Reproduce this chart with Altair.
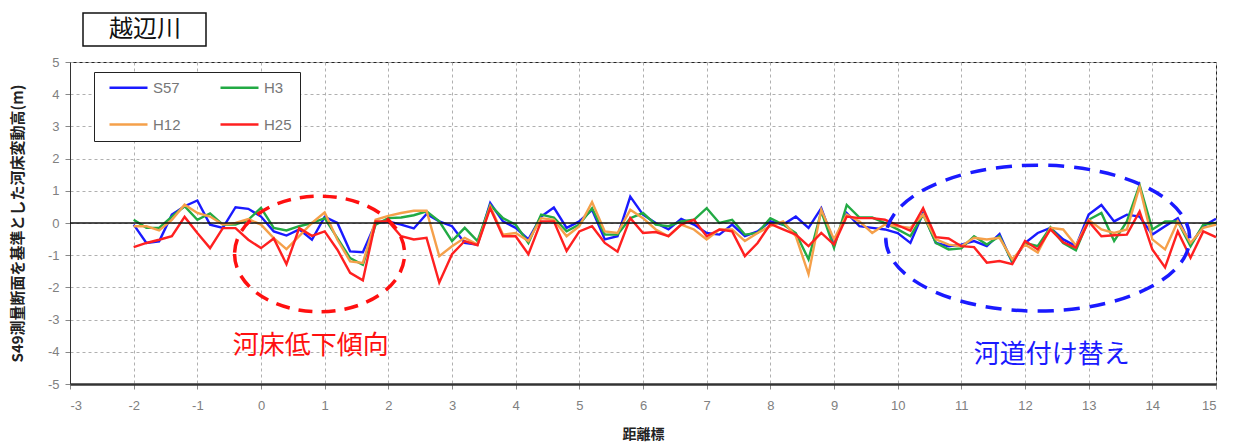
import altair as alt
import pandas as pd

km = [round(-2.0 + 0.2 * i, 1) for i in range(86)]

s57 = [-0.05, -0.62, -0.57, 0.26, 0.52, 0.70, -0.05, -0.15, 0.49, 0.44,
       0.20, -0.26, -0.39, -0.20, -0.52, 0.19, 0.00, -0.88, -0.91, 0.00,
       0.05, -0.05, -0.17, 0.28, 0.05, -0.10, -0.62, -0.67, 0.62, 0.05,
       -0.15, -0.51, 0.20, 0.48, -0.15, 0.05, 0.41, -0.51, -0.41, 0.82,
       0.26, 0.00, -0.20, 0.13, -0.05, -0.31, -0.36, -0.05, -0.41, -0.26,
       0.05, -0.05, 0.20, -0.15, 0.46, -0.62, 0.31, -0.10, -0.15, -0.20,
       -0.31, -0.62, 0.31, -0.62, -0.72, -0.67, -0.56, -0.72, -0.34, -1.23,
       -0.62, -0.31, -0.15, -0.51, -0.72, 0.26, 0.56, 0.05, 0.26, 0.20,
       -0.36, -0.10, 0.15, -0.67, -0.10, 0.13]

h3 = [0.10, -0.15, -0.15, 0.20, 0.52, 0.10, 0.30, -0.05, -0.05, 0.10,
      0.47, -0.15, -0.23, -0.10, 0.00, 0.15, -0.47, -1.09, -1.30, -0.05,
      0.15, 0.17, 0.24, 0.36, 0.05, -0.56, -0.15, -0.56, 0.56, 0.15,
      -0.05, -0.62, 0.26, 0.17, -0.26, -0.05, 0.46, -0.36, -0.36, 0.15,
      0.31, -0.05, -0.10, 0.05, 0.10, 0.46, 0.00, 0.10, -0.36, -0.31,
      0.15, -0.05, -0.31, -1.13, 0.36, -0.77, 0.56, 0.17, 0.17, 0.00,
      -0.20, -0.41, 0.26, -0.62, -0.82, -0.79, -0.41, -0.67, -0.41, -1.20,
      -0.62, -0.72, -0.13, -0.62, -0.85, 0.10, 0.31, -0.56, 0.05, 1.18,
      -0.20, 0.05, 0.05, -0.72, -0.05, 0.00]

h12 = [-0.10, -0.10, -0.23, 0.10, 0.57, 0.31, 0.20, -0.05, 0.00, 0.12,
       -0.05, -0.47, -0.81, -0.41, 0.00, 0.33, -0.52, -1.19, -1.24, 0.10,
       0.22, 0.31, 0.38, 0.38, -1.03, -0.72, -0.46, -0.67, 0.51, -0.36,
       -0.31, -0.56, 0.15, 0.10, -0.41, -0.10, 0.65, -0.26, -0.31, 0.41,
       0.15, -0.20, -0.41, -0.05, -0.20, -0.51, -0.20, -0.20, -0.56, -0.31,
       -0.10, 0.05, -0.41, -1.59, 0.41, -0.51, 0.26, 0.05, -0.31, -0.05,
       -0.10, -0.15, 0.26, -0.51, -0.67, -0.72, -0.46, -0.51, -0.46, -1.13,
       -0.67, -0.92, -0.15, -0.20, -0.70, 0.10, -0.20, -0.31, -0.20, 1.13,
       -0.51, -0.82, 0.05, -0.62, -0.15, -0.05]

h25 = [-0.75, -0.62, -0.52, -0.41, 0.19, -0.31, -0.78, -0.16, -0.16, -0.52,
       -0.78, -0.48, -1.28, -0.16, -0.40, -0.26, -0.83, -1.55, -1.78, 0.05,
       0.05, -0.41, -0.51, -0.46, -1.85, -0.97, -0.56, -0.69, 0.46, -0.41,
       -0.41, -0.97, 0.05, 0.05, -0.87, -0.26, -0.10, -0.62, -0.89, 0.15,
       -0.31, -0.28, -0.41, -0.05, 0.10, -0.41, -0.20, -0.26, -1.03, -0.62,
       -0.03, -0.20, -0.36, -0.72, -0.31, -0.67, 0.20, 0.15, 0.15, 0.10,
       -0.07, -0.24, 0.46, -0.44, -0.48, -0.72, -0.75, -1.23, -1.18, -1.28,
       -0.56, -0.82, -0.20, -0.60, -0.77, 0.05, -0.41, -0.38, -0.36, 0.36,
       -0.82, -1.38, -0.26, -1.08, -0.26, -0.44]

series_names = ["S57", "H3", "H12", "H25"]
series_colors = ["#1a1aff", "#22aa44", "#f5a04a", "#ff2020"]
series_values = [s57, h3, h12, h25]

x_ticks = list(range(-3, 16))
y_ticks = list(range(-5, 6))

# annotations
ann_text = ["河床低下傾向", "河道付け替え"]
ann_x = [0.78, 12.42]
ann_y = [-3.82, -4.10]
ann_colors = ["#ff1010", "#1a1aff"]
ell_x = [0.92, 12.2]
ell_y = [-0.96, -0.47]

rows = []
for name, vals in zip(series_names, series_values):
    for k, v in zip(km, vals):
        rows.append({"km": k, "val": v, "series": name})
df = pd.DataFrame(rows)

xscale = alt.Scale(domain=[-3, 15], nice=False, zero=False)
yscale = alt.Scale(domain=[-5, 5], nice=False, zero=False)

xaxis = alt.Axis(values=x_ticks, title="距離標", titleFont="Noto Sans CJK JP",
                 titleFontSize=14, titleFontWeight="bold", titleColor="#222",
                 titlePadding=15, labelFont="Liberation Sans", labelFontSize=13,
                 labelColor="#808080", labelPadding=10, tickColor="#888", tickSize=5,
                 labelExpr="'' + datum.value", labelOverlap=False,
                 grid=True, gridColor="#b0b0b0", gridDash=[3, 3], gridWidth=1,
                 domainColor="#333", domainWidth=2.5)
yaxis = alt.Axis(values=y_ticks, tickCount=11, title="S49測量断面を基準とした河床変動高(m)",
                 titleFont="Noto Sans CJK JP", titleFontSize=15, titleFontWeight="bold",
                 titleColor="#222", titlePadding=22, labelFont="Liberation Sans",
                 labelFontSize=13, labelColor="#808080", labelPadding=6, tickColor="#888",
                 labelExpr="'' + datum.value", labelOverlap=False, labelBound=False,
                 tickSize=5, grid=True, gridColor="#b0b0b0", gridDash=[3, 3], gridWidth=1,
                 domainColor="#333", domainWidth=1)


def X(field):
    return alt.X(field, scale=xscale, axis=xaxis)


def Y(field):
    return alt.Y(field, scale=yscale, axis=yaxis)


lines = alt.Chart(df).mark_line(strokeWidth=2.4).encode(
    x=X("km:Q"),
    y=Y("val:Q"),
    color=alt.Color("series:N",
                    scale=alt.Scale(domain=series_names, range=series_colors),
                    sort=series_names,
                    legend=alt.Legend(title=None, orient="none", legendX=24, legendY=10,
                                      columns=2, direction="horizontal",
                                      symbolType="M 0 0 L 7.6 0", symbolSize=100,
                                      symbolStrokeWidth=2.5, labelColor="#777",
                                      labelFont="Liberation Sans", labelFontSize=15,
                                      strokeColor="#222", fillColor="white",
                                      padding=8, columnPadding=32, rowPadding=21,
                                      labelOffset=36)),
    order=alt.Order("km:Q"),
)

zero = alt.Chart(pd.DataFrame({"val": [0]})).mark_rule(color="#111", strokeWidth=1.5).encode(
    y=Y("val:Q"))

ell_red = alt.Chart(pd.DataFrame({"km": ell_x[:1], "val": ell_y[:1]})).mark_point(
    shape="M -1 0 A 1 0.68 0 1 0 1 0 A 1 0.68 0 1 0 -1 0",
    size=170 * 170, filled=False, stroke="#ff1010", strokeWidth=3.5,
    strokeDash=[14, 9], opacity=1).encode(x=X("km:Q"), y=Y("val:Q"))

ell_blue = alt.Chart(pd.DataFrame({"km": ell_x[1:], "val": ell_y[1:]})).mark_point(
    shape="M -1 0 A 1 0.48 0 1 0 1 0 A 1 0.48 0 1 0 -1 0",
    size=304 * 304, filled=False, stroke="#1a1aff", strokeWidth=3.5,
    strokeDash=[16, 10], opacity=1).encode(x=X("km:Q"), y=Y("val:Q"))

ann = alt.Chart(pd.DataFrame({"km": ann_x, "val": ann_y, "t": ann_text, "c": ann_colors})).mark_text(
    font="Noto Sans CJK JP", fontSize=26, align="center", baseline="middle").encode(
    x=X("km:Q"), y=Y("val:Q"), text="t:N", color=alt.Color("c:N", scale=None))

title_box = alt.Chart(pd.DataFrame({"a": [0]})).mark_rect(
    fill="white", stroke="#111", strokeWidth=1.5).encode(
    x=alt.value(13), x2=alt.value(136), y=alt.value(-49), y2=alt.value(-16))
title_txt = alt.Chart(pd.DataFrame({"t": ["越辺川"]})).mark_text(
    font="Noto Sans CJK JP", fontSize=24, align="center", baseline="middle", color="#111").encode(
    x=alt.value(75), y=alt.value(-32), text="t:N")

chart = alt.layer(lines, zero, ell_red, ell_blue, ann, title_box, title_txt).properties(
    width=1146, height=322,
    autosize=alt.AutoSizeParams(type="none"),
    padding={"left": 70, "top": 62, "right": 21, "bottom": 62},
    background="white",
).configure_view(stroke="#222", strokeWidth=1)

chart.save("out.html", embed_options={"renderer": "svg", "actions": False})
